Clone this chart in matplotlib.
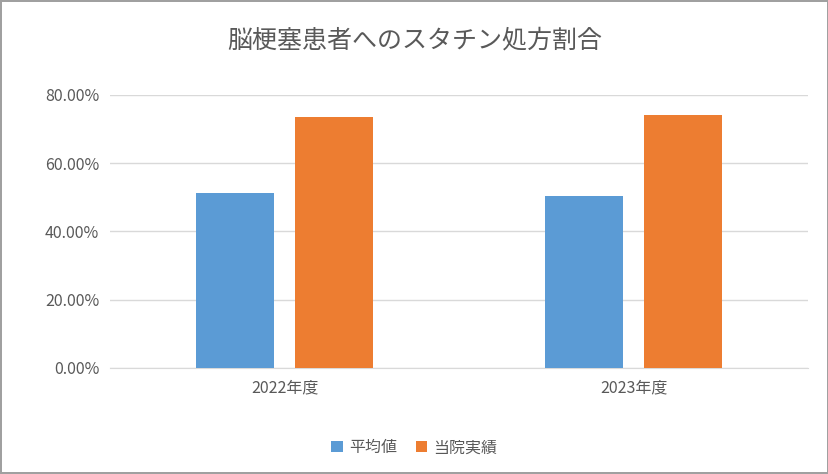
import matplotlib
matplotlib.use("Agg")
import matplotlib.pyplot as plt
import numpy as np
from matplotlib.ticker import FuncFormatter, MultipleLocator

plt.rcParams["font.family"] = "Noto Sans CJK JP"

categories = ["2022年度", "2023年度"]
series_names = ["平均値", "当院実績"]
avg_values = [0.513, 0.504]
hospital_values = [0.736, 0.741]
title = "脳梗塞患者へのスタチン処方割合"

fig = plt.figure(figsize=(8.29, 4.74), dpi=100)
fig.patch.set_edgecolor("#a0a0a0")
fig.patch.set_linewidth(1.5)
ax = fig.add_axes([0.133, 0.224, 0.842, 0.576])

x = np.arange(len(categories))
w = 0.224
off = 0.142
ax.bar(x - off, avg_values, w, color="#5b9bd5", label=series_names[0], zorder=3)
ax.bar(x + off, hospital_values, w, color="#ed7d31", label=series_names[1], zorder=3)

ax.set_xlim(-0.5, 1.5)
ax.set_ylim(0, 0.8)
ax.yaxis.set_major_locator(MultipleLocator(0.2))
ax.yaxis.set_major_formatter(FuncFormatter(lambda v, p: f"{v*100:.2f}%"))
ax.grid(axis="y", color="#d9d9d9", linewidth=1, zorder=0)
ax.set_xticks(x)
ax.set_xticklabels(categories)
for s in ["top", "right", "left"]:
    ax.spines[s].set_visible(False)
ax.spines["bottom"].set_color("#d9d9d9")
ax.tick_params(length=0, labelsize=11.5, colors="#595959", pad=8)

fig.text(0.5, 0.915, title, ha="center", va="center", fontsize=18, color="#595959")
fig.legend(loc="center", bbox_to_anchor=(0.5, 0.055), ncol=2, frameon=False,
           fontsize=11.5, labelcolor="#595959", handlelength=0.7, handleheight=0.7,
           columnspacing=1.2, handletextpad=0.4)
fig.savefig("out.png", dpi=100, edgecolor=fig.get_edgecolor())
